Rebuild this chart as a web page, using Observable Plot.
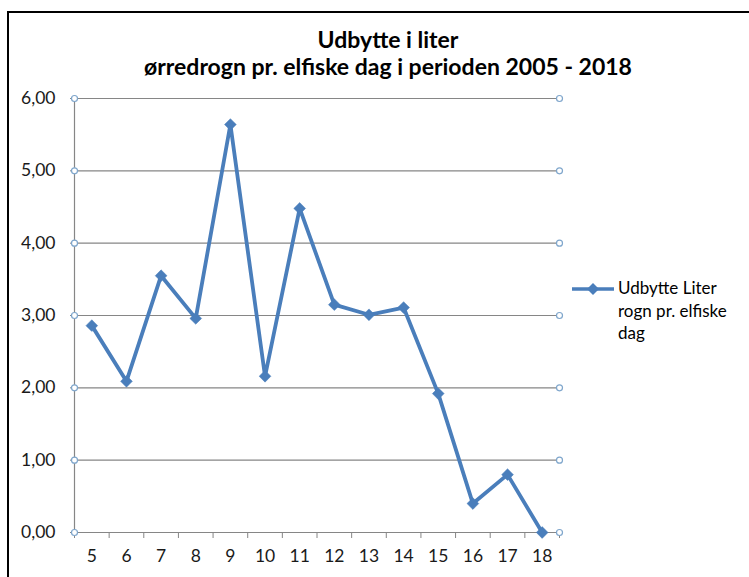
<!DOCTYPE html>
<html>
<head>
<meta charset="utf-8">
<script src="https://cdn.jsdelivr.net/npm/d3@7"></script>
<script src="https://cdn.jsdelivr.net/npm/@observablehq/plot@0.6"></script>
<style>
  html, body { margin: 0; padding: 0; background: #fff; overflow: hidden; }
  #wrap { position: relative; width: 749px; height: 577px; overflow: hidden; font-family: Lato, "Open Sans", sans-serif; }
  #border { position: absolute; left: 7px; top: 11px; width: 900px; height: 900px; border: 2px solid #000; box-sizing: border-box; }
  #title { position: absolute; left: 0; top: 26px; width: 776px; text-align: center; font-weight: bold; font-size: 23px; line-height: 27px; color: #000; white-space: nowrap; }
  #legend { position: absolute; left: 570px; top: 277px; font-size: 17px; line-height: 22.5px; color: #000; }
  #legend svg { position: absolute; left: 0; top: 3px; }
  #legend div { margin-left: 48px; white-space: nowrap; }
  #chart { position: absolute; left: 0; top: 0; }
</style>
</head>
<body>
<div id="wrap">
  <div id="border"></div>
  <div id="chart"></div>
  <div id="title">Udbytte i liter<br>ørredrogn pr. elfiske dag i perioden 2005 - 2018</div>
  <div id="legend">
    <svg width="46" height="18"><line x1="2" x2="44" y1="9" y2="9" stroke="#4A7EBB" stroke-width="3.5"/><path d="M23,3 L29,9 L23,15 L17,9 Z" fill="#4A7EBB"/></svg>
    <div>Udbytte Liter<br>rogn pr. elfiske<br>dag</div>
  </div>
</div>
<script>
const categories = [5, 6, 7, 8, 9, 10, 11, 12, 13, 14, 15, 16, 17, 18];
const values = [2.86, 2.09, 3.55, 2.96, 5.64, 2.16, 4.48, 3.15, 3.01, 3.11, 1.92, 0.40, 0.80, 0.00];
const yTicks = [0, 1, 2, 3, 4, 5, 6];
const seriesName = "Udbytte Liter rogn pr. elfiske dag";

const data = categories.map((c, i) => ({cat: c, value: values[i]}));
const boundaries = d3.range(categories.length + 1).map(i => categories[0] - 0.5 + i);
const fmt = d => d.toFixed(2).replace(".", ",");

const blue = "#4A7EBB";
const grid = "#868686";

const chart = Plot.plot({
  width: 749,
  height: 577,
  marginLeft: 74,
  marginRight: 190,
  marginTop: 98,
  marginBottom: 45,
  style: {fontFamily: "Lato, 'Open Sans', sans-serif", fontSize: "17.5px", color: "#222", background: "transparent"},
  x: {domain: [boundaries[0], boundaries[boundaries.length - 1]], label: null},
  y: {domain: [0, 6], label: null},
  marks: [
    Plot.gridY(yTicks, {stroke: grid, strokeOpacity: 1, strokeWidth: 1.2}),
    Plot.frame({anchor: "left", stroke: grid, strokeWidth: 1.2}),
    Plot.axisY(yTicks, {tickSize: 4, tickPadding: 15, tickFormat: fmt, stroke: grid, fill: "#1a1a1a", label: null}),
    Plot.axisX(boundaries, {tickSize: 6, tickFormat: () => "", stroke: grid, label: null}),
    Plot.axisX(categories, {tickSize: 0, tickPadding: 17, tickFormat: d => String(d), fill: "#1a1a1a", label: null}),
    Plot.dot(yTicks, {y: d => d, frameAnchor: "left", r: 3, stroke: "#7FA6CC", fill: "#fff", strokeWidth: 1.2}),
    Plot.dot(yTicks, {y: d => d, frameAnchor: "right", r: 3, stroke: "#7FA6CC", fill: "#fff", strokeWidth: 1.2}),
    Plot.line(data, {x: "cat", y: "value", stroke: blue, strokeWidth: 3.8}),
    Plot.dot(data, {x: "cat", y: "value", symbol: "diamond2", r: 5.3, fill: blue, stroke: blue, strokeWidth: 0.5, title: d => `${seriesName}: ${fmt(d.value)}`})
  ]
});
document.getElementById("chart").appendChild(chart);
</script>
</body>
</html>
